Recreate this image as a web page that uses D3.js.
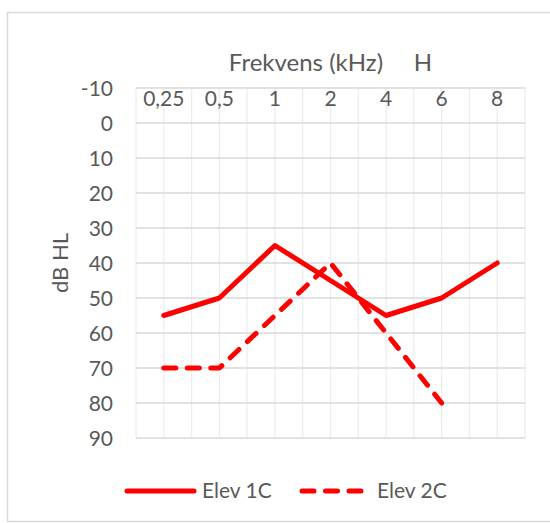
<!DOCTYPE html>
<html>
<head>
<meta charset="utf-8">
<script src="https://cdn.jsdelivr.net/npm/d3@7"></script>
<style>
  html, body { margin: 0; padding: 0; background: #fff; }
  svg { display: block; font-family: Lato, "Open Sans", sans-serif; }
</style>
</head>
<body>
<svg id="chart" width="550" height="523"></svg>
<script>
// Audiogram: hearing threshold (dB HL) per frequency for two pupils
const frequencies = ["0,25", "0,5", "1", "2", "4", "6", "8"];
const elev1C = [55, 50, 35, 45, 55, 50, 40];
const elev2C = [70, 70, 55, 40, 60, 80, null];
const yTicks = [-10, 0, 10, 20, 30, 40, 50, 60, 70, 80, 90];
const seriesNames = ["Elev 1C", "Elev 2C"];

const textColor = "#595959";
const red = "#ff0000";

const svg = d3.select("#chart");
svg.append("rect").attr("width", 550).attr("height", 523).attr("fill", "#fff");

// chart frame
svg.append("rect")
  .attr("x", 7.5).attr("y", 12.5)
  .attr("width", 560).attr("height", 509)
  .attr("fill", "none").attr("stroke", "#d9d9d9").attr("stroke-width", 1.5);

const plot = { left: 136, right: 525, top: 88, bottom: 438 };

const x = d3.scaleBand().domain(frequencies).range([plot.left, plot.right]).padding(0);
const y = d3.scaleLinear().domain([-10, 90]).range([plot.top, plot.bottom]);
const cx = d => x(d) + x.bandwidth() / 2;

// vertical grid: category edges and centres
const vLines = [];
frequencies.forEach(f => { vLines.push(x(f)); vLines.push(cx(f)); });
vLines.push(plot.right);
svg.append("g").selectAll("line").data(vLines).join("line")
  .attr("x1", d => d).attr("x2", d => d)
  .attr("y1", plot.top).attr("y2", plot.bottom)
  .attr("stroke", "#ededed").attr("stroke-width", 1.3);

// horizontal grid
svg.append("g").selectAll("line").data(yTicks).join("line")
  .attr("x1", plot.left).attr("x2", plot.right)
  .attr("y1", d => y(d)).attr("y2", d => y(d))
  .attr("stroke", "#d9d9d9").attr("stroke-width", 1.3);

// y axis (reversed: -10 at the top) drawn with d3.axisLeft
const yAxis = svg.append("g")
  .attr("transform", `translate(${plot.left - 23},0)`)
  .call(d3.axisLeft(y).tickValues(yTicks).tickFormat(d => String(d)).tickSize(0).tickPadding(0));
yAxis.select(".domain").remove();
yAxis.selectAll("text")
  .attr("fill", textColor).style("font-size", "21px")
  .style("font-family", "Lato, sans-serif").attr("dy", "0.35em");

// x axis labels along the top edge
const xAxis = svg.append("g")
  .attr("transform", `translate(0,${plot.top + 11})`)
  .call(d3.axisTop(x).tickSize(0).tickPadding(0));
xAxis.select(".domain").remove();
xAxis.selectAll("text")
  .attr("fill", textColor).style("font-size", "21px")
  .style("font-family", "Lato, sans-serif").attr("dy", "0.35em");

// axis titles
svg.append("text")
  .attr("x", (plot.left + plot.right) / 2).attr("y", 71)
  .attr("text-anchor", "middle").attr("fill", textColor)
  .style("font-size", "24px").style("white-space", "pre")
  .text("Frekvens (kHz)     H");

svg.append("text")
  .attr("transform", `translate(68,${(plot.top + plot.bottom) / 2}) rotate(-90)`)
  .attr("text-anchor", "middle").attr("fill", textColor)
  .style("font-size", "22px")
  .text("dB HL");

// series lines
const line = d3.line()
  .defined(d => d.v != null)
  .x(d => cx(d.f)).y(d => y(d.v));

const series = [
  { name: seriesNames[0], values: elev1C, dash: null },
  { name: seriesNames[1], values: elev2C, dash: "12 11.5" }
];

svg.append("g").selectAll("path").data(series).join("path")
  .attr("d", s => line(frequencies.map((f, i) => ({ f, v: s.values[i] }))))
  .attr("fill", "none").attr("stroke", red).attr("stroke-width", 5)
  .attr("stroke-linecap", "round").attr("stroke-linejoin", "round")
  .attr("stroke-dasharray", s => s.dash);

// legend
const legendY = 491;
const legendItems = [
  { s: series[0], x0: 127, x1: 194, tx: 202 },
  { s: series[1], x0: 302, x1: 365, tx: 377 }
];
const lg = svg.append("g").selectAll("g").data(legendItems).join("g");
lg.append("line")
  .attr("x1", d => d.x0).attr("x2", d => d.x1)
  .attr("y1", legendY).attr("y2", legendY)
  .attr("stroke", red).attr("stroke-width", 5)
  .attr("stroke-linecap", "round")
  .attr("stroke-dasharray", d => d.s.dash);
lg.append("text")
  .attr("x", d => d.tx).attr("y", legendY).attr("dy", "0.35em")
  .attr("fill", textColor).style("font-size", "21px")
  .text(d => d.s.name);
</script>
</body>
</html>
